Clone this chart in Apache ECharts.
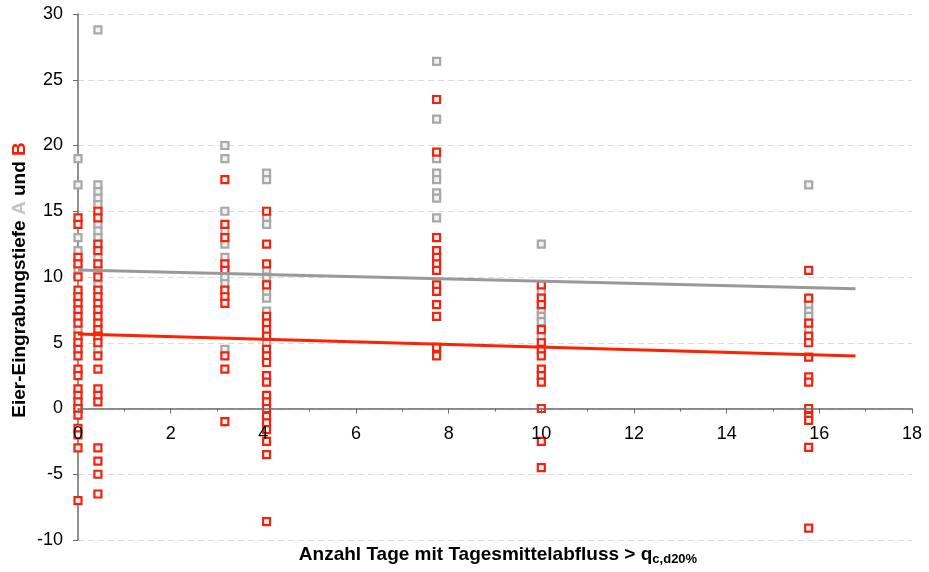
<!DOCTYPE html>
<html>
<head>
<meta charset="utf-8">
<script src="https://cdn.jsdelivr.net/npm/echarts@6/dist/echarts.min.js"></script>
<style>html,body{margin:0;padding:0;background:#fff}#c{width:929px;height:572px}</style>
</head>
<body>
<div id="c"></div>
<script>
// x positions of the sampling groups
var groupX = [0, 0.43, 3.17, 4.07, 7.74, 10.0, 15.77];
// Series A (gray) per group
var valuesA = [
  [19.0, 17.0, 13.0, 12.0, 10.6, 6.0, 0.0],
  [28.8, 17.0, 16.5, 16.0, 15.5, 14.0, 13.5, 13.0, 11.5, 10.5, 9.4, 4.5],
  [20.0, 19.0, 15.0, 13.5, 12.5, 11.5, 10.0, 9.5, 4.5],
  [17.9, 17.4, 14.5, 14.0, 10.5, 10.0, 8.9, 8.4, 7.4, 5.0],
  [26.4, 22.0, 19.0, 17.9, 17.4, 16.4, 16.0, 14.5, 4.5],
  [12.5, 8.9, 7.4, 7.0, 6.6, 5.5],
  [17.0, 7.9, 7.4, 7.0, 6.0]
];
// Series B (red) per group
var valuesB = [
  [14.5, 14.0, 11.5, 11.0, 10.0, 9.0, 8.5, 8.0, 7.5, 7.0, 6.5, 5.5, 5.0, 4.5, 4.0, 3.0, 2.5, 1.5, 1.0, 0.5, 0.0, -0.5, -1.5, -2.0, -3.0, -7.0],
  [15.0, 14.5, 12.5, 12.0, 11.0, 10.0, 9.0, 8.5, 8.0, 7.5, 7.0, 6.5, 6.0, 5.5, 5.0, 4.0, 3.0, 1.5, 1.0, 0.5, -3.0, -4.0, -5.0, -6.5],
  [17.4, 14.0, 13.0, 11.0, 10.5, 9.0, 8.5, 8.0, 4.0, 3.0, -1.0],
  [15.0, 12.5, 11.0, 9.4, 7.0, 6.5, 6.0, 5.5, 4.5, 4.0, 3.5, 2.5, 2.0, 1.0, 0.5, 0.0, -0.6, -1.1, -1.6, -2.5, -3.5, -8.6],
  [23.5, 19.5, 13.0, 12.0, 11.5, 11.0, 10.5, 9.4, 8.9, 7.9, 7.0, 4.65, 4.0],
  [9.4, 8.4, 7.9, 6.0, 5.0, 4.5, 4.0, 3.0, 2.5, 2.0, 0.0, -2.5, -4.5],
  [10.5, 8.4, 6.5, 5.5, 5.0, 3.9, 2.4, 2.0, 0.0, -0.6, -0.9, -2.95, -9.1]
];
// Linear trend lines (start, end)
var trendA = [[0, 10.53], [16.78, 9.1]];
var trendB = [[0, 5.67], [16.78, 4.0]];
var xTicks = {min: 0, max: 18, interval: 2};
var yTicks = {min: -10, max: 30, interval: 5};

function build(xs, vals) {
  var out = [];
  for (var i = 0; i < xs.length; i++) {
    for (var j = 0; j < vals[i].length; j++) out.push([xs[i], vals[i][j]]);
  }
  return out;
}

var RED = '#f0230f';
var GRAY = '#a8a8a8';
var FONT = 'Liberation Sans, Arial, sans-serif';
var GRID = {left: 78, right: 17, top: 14, bottom: 32};
var plotH = 572 - GRID.top - GRID.bottom;
// place the x axis on the y = 0 line
var zeroOffset = -plotH * (0 - yTicks.min) / (yTicks.max - yTicks.min);

var chart = echarts.init(document.getElementById('c'), null, {renderer: 'canvas'});
chart.setOption({
  animation: false,
  backgroundColor: '#fff',
  grid: {left: GRID.left, right: GRID.right, top: GRID.top, bottom: GRID.bottom, containLabel: false},
  xAxis: {
    type: 'value', min: xTicks.min, max: xTicks.max, interval: xTicks.interval,
    position: 'bottom', offset: zeroOffset, z: 10,
    axisLine: {onZero: false, lineStyle: {color: '#6b6b6b', width: 1.5}},
    axisTick: {show: true, length: 5, lineStyle: {color: '#6b6b6b'}},
    minorTick: {show: true, splitNumber: 2, length: 3, lineStyle: {color: '#6b6b6b'}},
    splitLine: {show: false},
    axisLabel: {color: '#000', fontSize: 18, fontFamily: FONT, margin: 17,
      showMinLabel: true, showMaxLabel: true, hideOverlap: false}
  },
  yAxis: {
    type: 'value', min: yTicks.min, max: yTicks.max, interval: yTicks.interval,
    axisLine: {show: true, onZero: false, lineStyle: {color: '#6b6b6b', width: 1.5}},
    axisTick: {show: true, length: 5, lineStyle: {color: '#6b6b6b'}},
    splitLine: {show: true, lineStyle: {color: '#dcdcdc', type: [6, 4], width: 1}},
    axisLabel: {color: '#000', fontSize: 18, fontFamily: FONT, margin: 15,
      showMinLabel: true, showMaxLabel: true, hideOverlap: false}
  },
  graphic: [
    {
      type: 'text', x: 20, y: 280, rotation: Math.PI / 2,
      style: {
        text: '{t|Eier-Eingrabungstiefe }{a|A}{t| und }{b|B}',
        align: 'center', verticalAlign: 'middle',
        rich: {
          t: {fontSize: 19, fontWeight: 'bold', fontFamily: FONT, fill: '#000'},
          a: {fontSize: 19, fontWeight: 'bold', fontFamily: FONT, fill: '#c4c4c4'},
          b: {fontSize: 19, fontWeight: 'bold', fontFamily: FONT, fill: '#ff1a00'}
        }
      }
    },
    {
      type: 'text', x: 498, y: 555,
      style: {
        text: '{t|Anzahl Tage mit Tagesmittelabfluss > q}{s|c,d20%}',
        align: 'center', verticalAlign: 'middle',
        rich: {
          t: {fontSize: 19, fontWeight: 'bold', fontFamily: FONT, fill: '#000'},
          s: {fontSize: 13, fontWeight: 'bold', fontFamily: FONT, fill: '#000', padding: [9, 0, 0, 0]}
        }
      }
    }
  ],
  series: [
    {
      name: 'A', type: 'scatter', data: build(groupX, valuesA),
      symbol: 'rect', symbolSize: 7, z: 2,
      itemStyle: {color: '#f2f2f2', borderColor: GRAY, borderWidth: 2.2, opacity: 1}
    },
    {
      name: 'B', type: 'scatter', data: build(groupX, valuesB),
      symbol: 'rect', symbolSize: 7, z: 3,
      itemStyle: {color: '#f2f2f2', borderColor: RED, borderWidth: 2.2, opacity: 1}
    },
    {
      name: 'Trend A', type: 'line', data: trendA, showSymbol: false, z: 4,
      lineStyle: {color: '#999999', width: 3}
    },
    {
      name: 'Trend B', type: 'line', data: trendB, showSymbol: false, z: 5,
      lineStyle: {color: '#ff2200', width: 3}
    }
  ]
});
</script>
</body>
</html>
